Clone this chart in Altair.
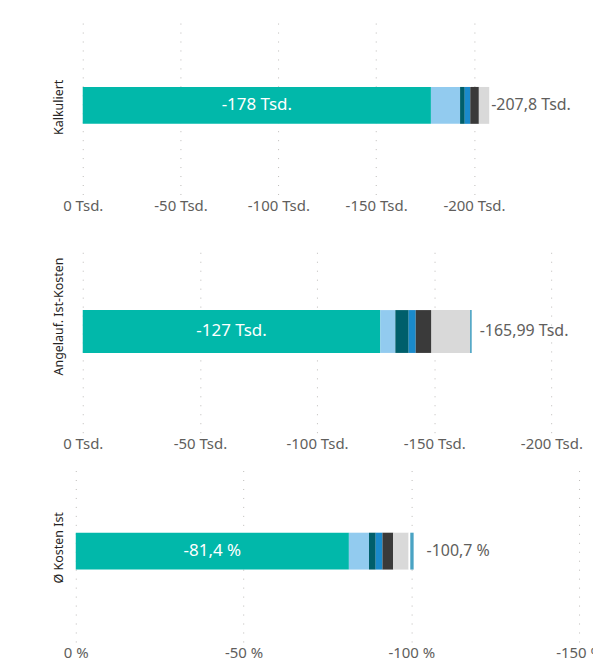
import altair as alt
import pandas as pd

# ---------------- data ----------------
panels = ["Kalkuliert", "Angelauf. Ist-Kosten", "Ø Kosten Ist"]
categories = ["Kostenart 1", "Kostenart 2", "Kostenart 3", "Kostenart 4",
              "Kostenart 5", "Kostenart 6", "Kostenart 7", "Kostenart 8"]
colors = ["#01B8AA", "#92CBEF", "#005F6B", "#1A8ACB",
          "#3A3A3A", "#D9D9D9", "#FFFFFF", "#4AA3C3"]

kalkuliert = [-178.0, -14.9, -2.4, -2.8, -4.4, -5.3, 0.0, 0.0]          # Tsd.
angelauf_ist = [-127.0, -6.4, -5.7, -3.0, -6.7, -16.5, 0.0, -0.69]      # Tsd.
kosten_ist_pct = [-81.4, -6.0, -2.0, -2.0, -3.2, -4.6, -0.5, -1.0]      # %
series = [kalkuliert, angelauf_ist, kosten_ist_pct]

inner_labels = ["-178 Tsd.", "-127 Tsd.", "-81,4 %"]
total_labels = ["-207,8 Tsd.", "-165,99 Tsd.", "-100,7 %"]

tick_values = [[0, -50, -100, -150, -200],
               [0, -50, -100, -150, -200],
               [0, -50, -100, -150]]
tick_suffix = [" Tsd.", " Tsd.", " %"]

# ---------------- layout / style per panel ----------------
x_domains = [[3.56, -215], [2.98, -205], [0, -150]]
widths = [429, 489, 505]
heights = [176, 189, 172]
pad_inner = [0.4676, 0.411, 0.4519]
band_align = [0.49, 0.452, 0.462]
title_y = [88, 72, 77]
total_dx = [2, 8, 13]

FONT = "Segoe UI, Noto Sans, sans-serif"
GRAY = "#605E5C"


def panel(i):
    df = pd.DataFrame({
        "panel": panels[i],
        "cat": categories,
        "idx": list(range(len(categories))),
        "value": series[i],
    })
    lab = pd.DataFrame({
        "panel": [panels[i]],
        "mid": [series[i][0] / 2],
        "total": [sum(series[i])],
        "inner": [inner_labels[i]],
        "outer": [total_labels[i]],
    })

    y_enc = alt.Y(
        "panel:N",
        title=panels[i],
        scale=alt.Scale(paddingInner=pad_inner[i], paddingOuter=1, align=band_align[i]),
        axis=alt.Axis(labels=False, ticks=False, domain=False, grid=False,
                      titlePadding=10, titleFontSize=12.5, titleColor="#252423",
                      titleFontWeight="normal", titleFont=FONT, titleY=title_y[i]),
    )

    x_axis = alt.Axis(
        values=tick_values[i],
        labelExpr="datum.value + '" + tick_suffix[i] + "'",
        grid=True, gridDash=[1, 8], gridColor="#BDBBB9", gridWidth=1,
        domain=False, ticks=False, labelPadding=4, labelFlush=False,
        labelOverlap=False, labelColor=GRAY, labelFontSize=15, labelFont=FONT,
        title=None,
    )

    bars = alt.Chart(df).mark_bar().encode(
        x=alt.X("value:Q", stack="zero",
                scale=alt.Scale(domain=x_domains[i], nice=False, zero=False),
                axis=x_axis),
        y=y_enc,
        color=alt.Color("cat:N", scale=alt.Scale(domain=categories, range=colors),
                        legend=None),
        order=alt.Order("idx:Q"),
    )

    inner = alt.Chart(lab).mark_text(
        color="white", fontSize=17, align="center", baseline="middle", font=FONT
    ).encode(x=alt.X("mid:Q", title=None), y=alt.Y("panel:N"), text="inner:N")

    outer = alt.Chart(lab).mark_text(
        color=GRAY, fontSize=16, align="left", baseline="middle",
        dx=total_dx[i], font=FONT
    ).encode(x=alt.X("total:Q", title=None), y=alt.Y("panel:N"), text="outer:N")

    return alt.layer(bars, inner, outer).properties(width=widths[i], height=heights[i])


top = alt.vconcat(panel(0), panel(1), spacing=29)
chart = alt.vconcat(top, panel(2), spacing=17).properties(
    padding={"left": 44, "top": 9, "right": -10, "bottom": 0}
).configure(font=FONT).configure_view(stroke="transparent")

chart.save("out.html", embed_options={"renderer": "svg", "actions": False})
